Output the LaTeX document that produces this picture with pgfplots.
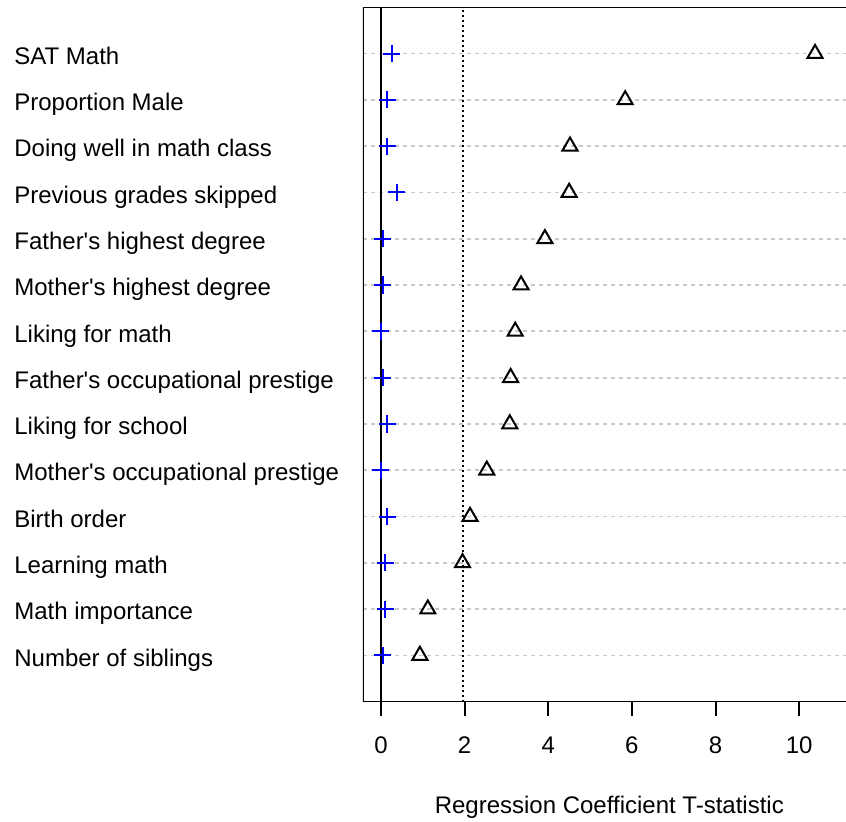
\documentclass[border=0pt]{standalone}
\usepackage{fontspec}
\setmainfont{Liberation Sans}
\usepackage{pgfplots}
\pgfplotsset{compat=1.18}
\usepackage{pgfplotstable}

% T-statistics per predictor; row 14 is drawn at the top
\pgfplotstableread{
row  tstat  base
14   10.38  0.26
13   5.84   0.15
12   4.52   0.15
11   4.50   0.38
10   3.92   0.04
9    3.35   0.04
8    3.21   -0.01
7    3.10   0.04
6    3.08   0.15
5    2.53   -0.01
4    2.13   0.15
3    1.95   0.10
2    1.12   0.10
1    0.93   0.04
}\tstats

\definecolor{gridgray}{RGB}{200,200,200}
\newcommand{\lblfont}{\fontsize{12}{14}\selectfont}
\newcommand{\q}{\textquotesingle}

\begin{document}
\begin{tikzpicture}
\useasboundingbox (-181.5pt,-59.65pt) rectangle (241.5pt,350.85pt);
\begin{axis}[
  scale only axis,
  width=241.5pt, height=347.2pt,
  xmin=-0.43, xmax=11.12,
  ymin=0, ymax=15,
  axis line style={draw=none},
  xtick={0,2,...,10},
  xtick pos=bottom,
  tick align=outside,
  major tick length=7pt,
  xtick style={black, line width=1pt},
  ytick={1,...,14},
  yticklabels={Number of siblings, Math importance, Learning math, Birth order,
    Mother\q s occupational prestige, Liking for school,
    Father\q s occupational prestige, Liking for math, Mother\q s highest degree,
    Father\q s highest degree, Previous grades skipped, Doing well in math class,
    Proportion Male, SAT Math},
  ytick style={draw=none},
  ymajorgrids,
  major grid style={gridgray, line width=0.9pt, dash pattern=on 2pt off 2pt},
  /pgf/number format/assume math mode=true,
  tick label style={font=\lblfont},
  yticklabel style={anchor=base west, inner sep=0pt, xshift=-167.5pt, yshift=-5.35pt},
  xticklabel style={anchor=base, inner sep=0pt, yshift=-19pt},
  xlabel={Regression Coefficient T-statistic},
  xlabel style={font=\lblfont, at={(axis description cs:0.51,0)}, anchor=base, inner sep=0pt, yshift=-56pt},
]
  % coefficients of the baseline model
  \addplot[only marks, mark=+, mark size=4.3pt, blue, line width=1pt]
    table[x=base, y=row] {\tstats};
  % reference lines at 0 and 1.96
  \addplot[black, line width=1pt] coordinates {(0,0) (0,15)};
  \addplot[black, line width=1pt, dash pattern=on 1pt off 1.5pt] coordinates {(1.96,0) (1.96,15)};
  % T-statistics of the full model
  \addplot[only marks, mark=triangle, mark size=4.35pt,
    mark options={draw=black, fill=white, line width=1pt}]
    table[x=tstat, y=row] {\tstats};
  % frame: left, top and bottom sides
  \draw[black, line width=1pt] (rel axis cs:1,1) -- (rel axis cs:0,1) -- (rel axis cs:0,0) -- (rel axis cs:1,0);
\end{axis}
\end{tikzpicture}
\end{document}
